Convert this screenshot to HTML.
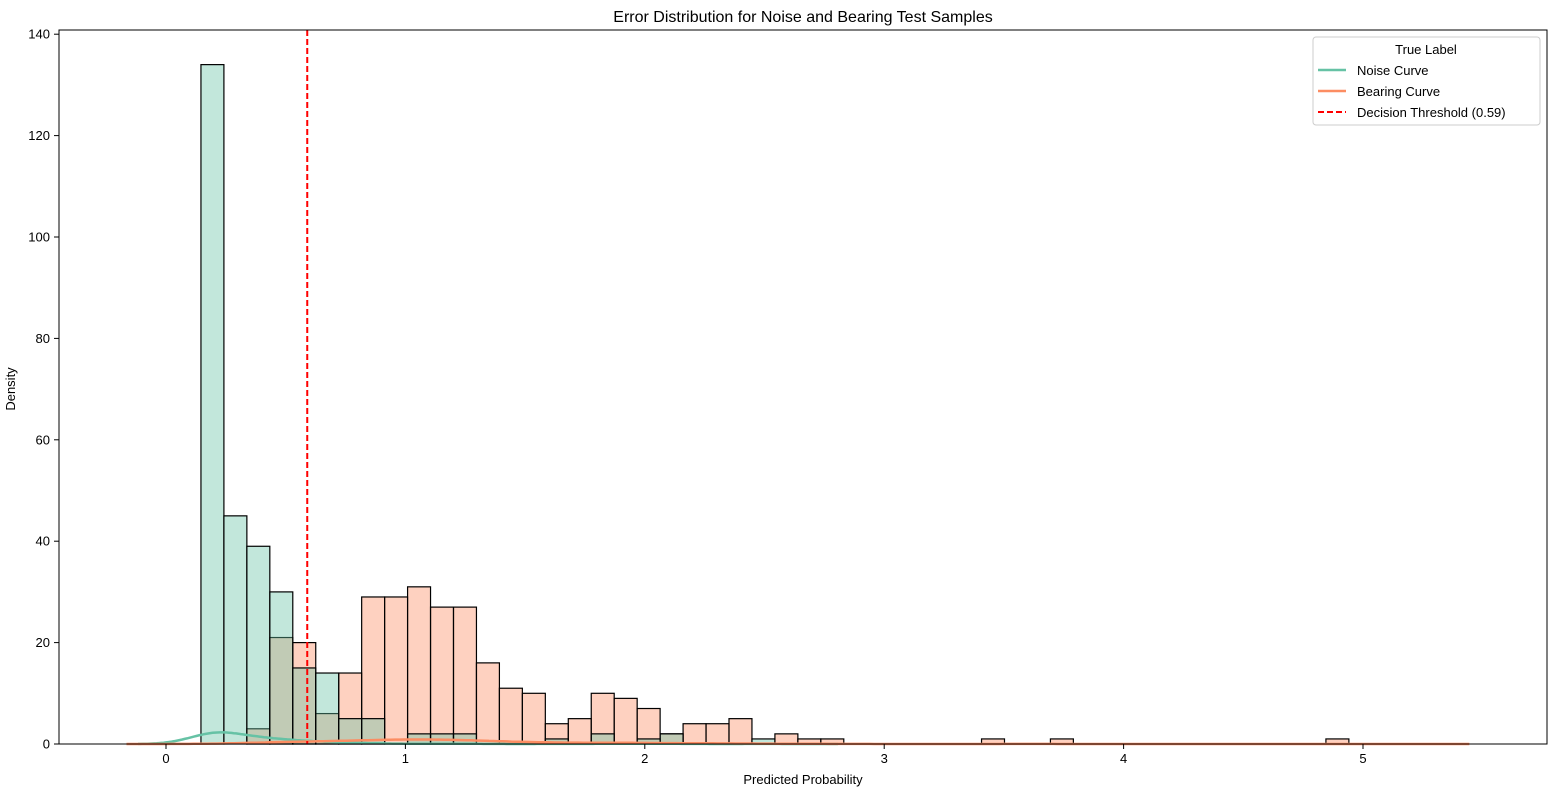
<!DOCTYPE html>
<html><head><meta charset="utf-8"><style>
body{margin:0;background:#fff;font-family:"Liberation Sans","DejaVu Sans",sans-serif}
text{font-family:"Liberation Sans","DejaVu Sans",sans-serif}
</style></head><body>
<svg id="chart" width="1567" height="790" xmlns="http://www.w3.org/2000/svg">
<rect width="1567" height="790" fill="#fff"/>
<text x="803" y="22" font-size="16" text-anchor="middle">Error Distribution for Noise and Bearing Test Samples</text>
<g id="plot"></g>
<rect x="59" y="30" width="1488" height="714" fill="none" stroke="#000" stroke-width="1"/>
<g id="axes"></g>
<text x="803" y="784" font-size="13" text-anchor="middle">Predicted Probability</text>
<text x="15" y="389" font-size="13" text-anchor="middle" transform="rotate(-90 15 389)">Density</text>
<g>
<rect x="1313" y="37" width="227" height="88" fill="#fff" fill-opacity="0.85" stroke="#ccc" rx="3"/>
<text x="1426" y="54" font-size="13" text-anchor="middle">True Label</text>
<line x1="1318" y1="70" x2="1346" y2="70" stroke="#66c2a5" stroke-width="2.5"/>
<text x="1357" y="75" font-size="13">Noise Curve</text>
<line x1="1318" y1="91" x2="1346" y2="91" stroke="#fc8d62" stroke-width="2.5"/>
<text x="1357" y="96" font-size="13">Bearing Curve</text>
<line x1="1318" y1="112" x2="1346" y2="112" stroke="#f00" stroke-width="2" stroke-dasharray="6,3"/>
<text x="1357" y="117" font-size="13">Decision Threshold (0.59)</text>
</g>
</svg>
<script>
const binStart = 0.146;
const binWidth = 0.0959;
const noiseCounts = [134,45,39,30,15,14,5,5,0,2,2,2,0,0,0,1,0,2,0,1,2,0,0,0,1];
const bearingCounts = [0,0,3,21,20,6,14,29,29,31,27,27,16,11,10,4,5,10,9,7,2,4,4,5,0,2,1,1,0,0,0,0,0,0,1,0,0,1,0,0,0,0,0,0,0,0,0,0,0,1];
const threshold = 0.59;
const xTicks = [0,1,2,3,4,5];
const yTicks = [0,20,40,60,80,100,120,140];
const NS='http://www.w3.org/2000/svg';
function sx(v){return 166 + v*239.4;}
function sy(v){return 744 - v*5.07;}
const plot=document.getElementById('plot'), axes=document.getElementById('axes');
function mk(tag,attrs,parent){const e=document.createElementNS(NS,tag);for(const k in attrs)e.setAttribute(k,attrs[k]);parent.appendChild(e);return e;}
function bars(counts,fill,name){
  counts.forEach((c,i)=>{ if(!c)return;
    const x0=binStart+i*binWidth;
    const r=mk('rect',{x:sx(x0),y:sy(c),width:sx(x0+binWidth)-sx(x0),height:sy(0)-sy(c),fill:fill,'fill-opacity':0.4,stroke:'#000','stroke-width':1.2},plot);
    
    
  });
}
bars(bearingCounts,'#fc8d62','bearing');
bars(noiseCounts,'#66c2a5','noise');
function kde(counts,color,name){
  let n=0,m=0;counts.forEach((c,i)=>{const x=binStart+(i+0.5)*binWidth;n+=c;m+=c*x;});m/=n;
  let v=0;counts.forEach((c,i)=>{const x=binStart+(i+0.5)*binWidth;v+=c*(x-m)*(x-m);});
  const sd=Math.sqrt(v/n), bw=sd*Math.pow(n,-0.2);
  let lo=Infinity,hi=-Infinity;counts.forEach((c,i)=>{if(c){const x=binStart+(i+0.5)*binWidth;lo=Math.min(lo,x);hi=Math.max(hi,x);}});
  lo-=3*bw;hi+=3*bw;
  let d='';
  for(let k=0;k<=300;k++){const x=lo+(hi-lo)*k/300;let s=0;
    counts.forEach((c,i)=>{const xi=binStart+(i+0.5)*binWidth;const z=(x-xi)/bw;s+=c*Math.exp(-0.5*z*z);});
    s/=n*bw*Math.sqrt(2*Math.PI);
    d+=(k?'L':'M')+sx(x).toFixed(1)+','+sy(s).toFixed(1);}
  const p=mk('path',{d:d,fill:'none',stroke:color,'stroke-width':2.5},plot);
  
  
}
kde(noiseCounts,'#66c2a5','noise-curve');
kde(bearingCounts,'#fc8d62','bearing-curve');
const th=mk('line',{x1:sx(threshold),x2:sx(threshold),y1:30,y2:744,stroke:'#f00','stroke-width':2,'stroke-dasharray':'6,3'},plot);


xTicks.forEach(t=>{
  mk('line',{x1:sx(t),x2:sx(t),y1:744,y2:749,stroke:'#000'},axes);
  const tx=mk('text',{x:sx(t),y:763,'font-size':13,'text-anchor':'middle'},axes);tx.textContent=t;
  
  
});
yTicks.forEach(t=>{
  mk('line',{x1:54,x2:59,y1:sy(t),y2:sy(t),stroke:'#000'},axes);
  const tx=mk('text',{x:50,y:sy(t)+4.5,'font-size':13,'text-anchor':'end'},axes);tx.textContent=t;
  
  
});
</script>
</body></html>
